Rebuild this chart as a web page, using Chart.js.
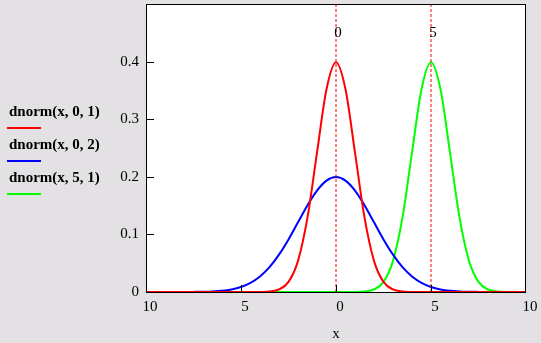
<!DOCTYPE html>
<html><head><meta charset="utf-8">
<script src="https://cdn.jsdelivr.net/npm/chart.js@4/dist/chart.umd.min.js"></script>
<style>
html,body{margin:0;padding:0;background:#e3e1e4;}
#wrap{position:relative;width:541px;height:343px;}
</style></head>
<body><div id="wrap"><canvas id="c" width="541" height="343"></canvas></div>
<script>
const xs = [-10,-9.5,-9,-8.5,-8,-7.5,-7,-6.5,-6,-5.5,-5,-4.5,-4,-3.5,-3,-2.5,-2,-1.5,-1,-0.5,0,0.5,1,1.5,2,2.5,3,3.5,4,4.5,5,5.5,6,6.5,7,7.5,8,8.5,9,9.5,10];
const dnorm01 = [0,0,0,0,0,0,0,0,0,0,0,0.00002,0.00013,0.00087,0.0044,0.0175,0.054,0.1295,0.242,0.352,0.399,0.352,0.242,0.1295,0.054,0.0175,0.0044,0.00087,0.00013,0.00002,0,0,0,0,0,0,0,0,0,0,0];
const dnorm02 = [0,0,0,0.00002,0.0001,0.0002,0.0004,0.001,0.0022,0.0045,0.0088,0.0159,0.027,0.0431,0.0648,0.0913,0.121,0.1506,0.176,0.1933,0.1995,0.1933,0.176,0.1506,0.121,0.0913,0.0648,0.0431,0.027,0.0159,0.0088,0.0045,0.0022,0.001,0.0004,0.0002,0.0001,0.00002,0,0,0];
const dnorm51 = [0,0,0,0,0,0,0,0,0,0,0,0,0,0,0,0,0,0,0,0,0,0.00002,0.00013,0.00087,0.0044,0.0175,0.054,0.1295,0.242,0.352,0.399,0.352,0.242,0.1295,0.054,0.0175,0.0044,0.00087,0.00013,0.00002,0];
const seriesNames = ['dnorm(x, 0, 1)','dnorm(x, 0, 2)','dnorm(x, 5, 1)'];
const seriesColors = ['#ff0000','#0000ff','#00ff00'];
const markers = [0,5];
const markerLabels = ['0','5'];
const xTicks = [-10,-5,0,5,10];
const xTickLabels = ['10','5','0','5','10'];
const yTicks = [0,0.1,0.2,0.3,0.4];
const yTickLabels = ['0','0.1','0.2','0.3','0.4'];
const xTitle = 'x';

const FONT = 'Liberation Serif, Times New Roman, serif';
const pts = arr => xs.map((x,i)=>({x:x,y:arr[i]}));
const series = [dnorm01,dnorm02,dnorm51];

const datasets = series.map((s,i)=>({
  label: seriesNames[i], data: pts(s), borderColor: seriesColors[i], borderWidth: 2,
  pointRadius: 0, cubicInterpolationMode: 'monotone', fill: false
}));
markers.forEach(m=>{
  datasets.unshift({label:'m'+m, data:[{x:m,y:0},{x:m,y:0.5}], borderColor:'#ff0000', borderWidth:1, borderDash:[3,2], pointRadius:0});
});

const deco = {
  id:'deco',
  beforeDraw(chart){
    const {ctx, chartArea:a} = chart;
    ctx.save(); ctx.fillStyle='#ffffff'; ctx.fillRect(a.left,a.top,a.right-a.left,a.bottom-a.top); ctx.restore();
  },
  afterDraw(chart){
    const {ctx, chartArea:a, scales} = chart;
    ctx.save();
    ctx.strokeStyle='#000'; ctx.lineWidth=1;
    ctx.strokeRect(a.left+0.5,a.top+0.5,a.right-a.left-1,a.bottom-a.top);
    yTicks.forEach(v=>{const p=Math.round(scales.y.getPixelForValue(v))+0.5; ctx.beginPath(); ctx.moveTo(a.left,p); ctx.lineTo(a.left+8,p); ctx.stroke();});
    xTicks.slice(1,-1).forEach(v=>{const p=Math.round(scales.x.getPixelForValue(v))+0.5; ctx.beginPath(); ctx.moveTo(p,a.bottom); ctx.lineTo(p,a.bottom-7); ctx.stroke();});
    ctx.fillStyle='#000'; ctx.font='15px '+FONT; ctx.textAlign='center'; ctx.textBaseline='middle';
    markers.forEach((m,i)=>{ctx.fillText(markerLabels[i], scales.x.getPixelForValue(m)+2, 33);});
    ctx.textAlign='left'; ctx.font='bold 15px '+FONT;
    seriesNames.forEach((n,i)=>{
      const yT = 112 + i*33;
      ctx.fillStyle='#000'; ctx.fillText(n, 9, yT);
      ctx.strokeStyle=seriesColors[i]; ctx.lineWidth=2;
      ctx.beginPath(); ctx.moveTo(7, yT+16); ctx.lineTo(41, yT+16); ctx.stroke();
    });
    ctx.restore();
  }
};

new Chart(document.getElementById('c'), {
  type:'line',
  data:{datasets},
  options:{
    responsive:false, animation:false, events:[],
    layout:{padding:{left:0,top:4,right:15,bottom:0}},
    plugins:{legend:{display:false}, tooltip:{enabled:false}},
    scales:{
      x:{type:'linear', min:-10, max:10,
        afterBuildTicks(s){s.ticks = xTicks.map(v=>({value:v}));},
        afterFit(s){s.height = 51; s.paddingLeft=0; s.paddingRight=0;},
        grid:{display:false, drawTicks:false}, border:{display:false},
        ticks:{padding:6, labelOffset:4, color:'#000', font:{family:FONT,size:15}, maxRotation:0, autoSkip:false,
          callback:(v,i)=>xTickLabels[i]},
        title:{display:true, text:xTitle, color:'#000', font:{family:FONT,size:15}, padding:{top:6,bottom:0}}
      },
      y:{type:'linear', min:0, max:0.5,
        afterBuildTicks(s){s.ticks = yTicks.map(v=>({value:v}));},
        afterFit(s){s.width = 146; s.paddingTop=0; s.paddingBottom=0;},
        grid:{display:false, drawTicks:false}, border:{display:false},
        ticks:{padding:7, color:'#000', font:{family:FONT,size:15}, callback:(v,i)=>yTickLabels[i]}
      }
    }
  },
  plugins:[deco]
});
</script></body></html>
